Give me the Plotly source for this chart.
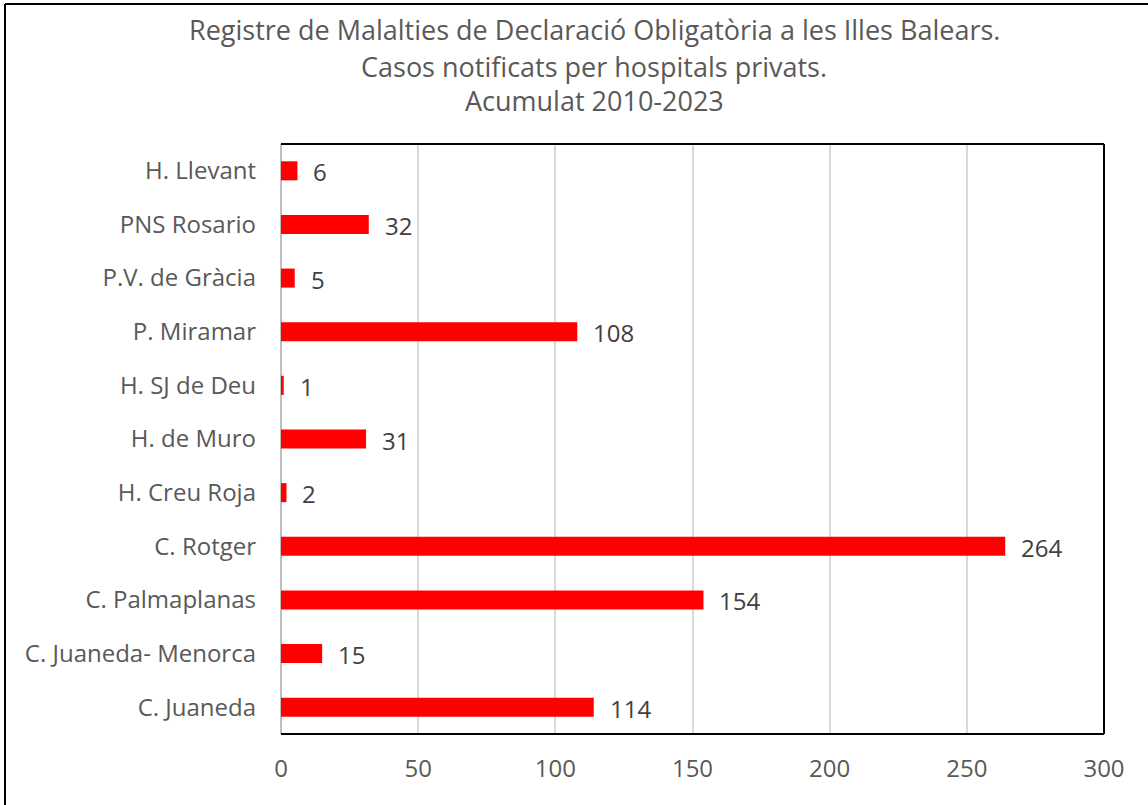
import plotly.graph_objects as go

categories = ["C. Juaneda", "C. Juaneda- Menorca", "C. Palmaplanas", "C. Rotger",
              "H. Creu Roja", "H. de Muro", "H. SJ de Deu", "P. Miramar",
              "P.V. de Gràcia", "PNS Rosario", "H. Llevant"]
values = [114, 15, 154, 264, 2, 31, 1, 108, 5, 32, 6]
x_ticks = [0, 50, 100, 150, 200, 250, 300]
title_lines = ["Registre de Malalties de Declaració Obligatòria a les Illes Balears.",
               "Casos notificats per hospitals privats.",
               "Acumulat 2010-2023"]

W, H = 1148, 805
L, R, T, B = 281, 44, 144, 71
pw, ph = W - L - R, H - T - B
FONT = "Open Sans"

fig = go.Figure()
fig.add_trace(go.Bar(
    y=categories, x=values, orientation="h",
    marker=dict(color="#ff0000", line=dict(width=0)),
    width=0.355, hoverinfo="x+y",
))

def px_x(p):
    return (p - L) / pw

def px_y(p):
    return (H - B - p) / ph

annotations = []
for c, v in zip(categories, values):
    annotations.append(dict(x=v, y=c, xref="x", yref="y", text=str(v),
                            showarrow=False, xanchor="left", yanchor="middle",
                            xshift=14, yshift=-1,
                            font=dict(family=FONT, size=24, color="#404040")))
title_y = [30, 67, 101]
for line, py in zip(title_lines, title_y):
    annotations.append(dict(x=px_x(594), y=px_y(py), xref="paper", yref="paper",
                            text=line, showarrow=False, xanchor="center", yanchor="middle",
                            font=dict(family=FONT, size=27, color="#595959")))

shapes = [
    # outer frame (only left and top edges visible in the crop)
    dict(type="line", xref="paper", yref="paper", x0=px_x(5), x1=px_x(5),
         y0=px_y(900), y1=px_y(4), line=dict(color="#000000", width=2)),
    dict(type="line", xref="paper", yref="paper", x0=px_x(5), x1=px_x(1300),
         y0=px_y(4), y1=px_y(4), line=dict(color="#000000", width=2)),
    # plot border top/right/bottom
    dict(type="line", xref="paper", yref="paper", x0=0, x1=1, y0=1, y1=1,
         line=dict(color="#000000", width=2)),
    dict(type="line", xref="paper", yref="paper", x0=1, x1=1, y0=0, y1=1,
         line=dict(color="#000000", width=2)),
    dict(type="line", xref="paper", yref="paper", x0=0, x1=1, y0=0, y1=0,
         line=dict(color="#000000", width=2)),
]

fig.update_layout(
    width=W, height=H,
    margin=dict(l=L, r=R, t=T, b=B, pad=0),
    paper_bgcolor="white", plot_bgcolor="white",
    showlegend=False,
    font=dict(family=FONT, color="#595959"),
    xaxis=dict(range=[0, 300], tickvals=x_ticks, ticktext=[str(t) for t in x_ticks],
               showgrid=True, gridcolor="#d9d9d9", gridwidth=2,
               zeroline=True, zerolinecolor="#bfbfbf", zerolinewidth=2,
               showline=False, ticks="", ticklen=0, ticklabelstandoff=18,
               tickfont=dict(family=FONT, size=24, color="#595959"),
               fixedrange=True, automargin=False),
    yaxis=dict(categoryorder="array", categoryarray=categories,
               range=[-0.5, len(categories) - 0.5],
               showgrid=False, zeroline=False, showline=False, ticks="",
               ticklabelstandoff=24,
               tickfont=dict(family=FONT, size=24, color="#595959"),
               fixedrange=True, automargin=False),
    annotations=annotations,
    shapes=shapes,
)

fig.write_html("out.html", config={"displayModeBar": False},
               post_script="document.body.style.margin='0';document.body.style.overflow='hidden';")
